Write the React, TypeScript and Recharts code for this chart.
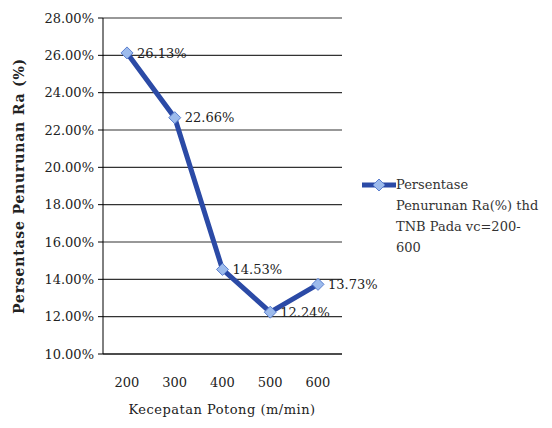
import React from 'react';
import { LineChart, Line, XAxis, YAxis, CartesianGrid, LabelList } from 'recharts';

const speeds = ['200', '300', '400', '500', '600'];
const reduction = [26.13, 22.66, 14.53, 12.24, 13.73];
const yTicks = [10, 12, 14, 16, 18, 20, 22, 24, 26, 28];
const legendLines = ['Persentase', 'Penurunan Ra(%) thd', 'TNB Pada vc=200-', '600'];

const data = speeds.map((s, i) => ({ speed: s, value: reduction[i] }));

const FONT = '"DejaVu Serif", "Liberation Serif", serif';
const LINE = '#2b4aa6';
const MARK = '#9dbbec';

const Diamond = (props: any) => {
  const { cx, cy } = props;
  if (cx == null || cy == null) return null;
  const r = 6;
  return (
    <polygon
      points={`${cx},${cy - r} ${cx + r},${cy} ${cx},${cy + r} ${cx - r},${cy}`}
      fill={MARK}
      stroke="#5b7fcf"
      strokeWidth={1}
    />
  );
};

export default function App() {
  return (
    <div style={{ position: 'absolute', left: 0, top: 0, width: 552, height: 428, background: '#fff' }}>
      <LineChart width={552} height={428} data={data} margin={{ top: 18, right: 210, bottom: 44, left: 38 }}>
        <CartesianGrid horizontal vertical={false} stroke="#333" strokeWidth={1.2} />
        <XAxis
          dataKey="speed"
          height={30}
          padding={{ left: 24, right: 24 }}
          tickLine={false}
          axisLine={{ stroke: '#000' }}
          tick={{ fill: '#222', fontSize: 13, fontFamily: FONT }}
          tickMargin={18}
        />
        <YAxis
          width={65}
          domain={[10, 28]}
          ticks={yTicks}
          interval={0}
          tickFormatter={(v: number) => `${v.toFixed(2)}%`}
          axisLine={{ stroke: '#000' }}
          tickLine={{ stroke: '#000' }}
          tickSize={5}
          tickMargin={4}
          tick={{ fill: '#222', fontSize: 13, fontFamily: FONT }}
        />
        <text x={20} y={186} transform="rotate(-90 20 186)" textAnchor="middle" dominantBaseline="middle" fill="#222" fontSize={14} fontWeight="bold" fontFamily={FONT} letterSpacing={0.8}>
          Persentase Penurunan Ra (%)
        </text>
        <text x={222} y={410} textAnchor="middle" dominantBaseline="middle" fill="#222" fontSize={13} fontFamily={FONT} letterSpacing={0.5}>
          Kecepatan Potong (m/min)
        </text>
        <Line
          type="linear"
          dataKey="value"
          stroke={LINE}
          strokeWidth={5}
          dot={<Diamond />}
          activeDot={false}
          isAnimationActive={false}
        >
          <LabelList
            dataKey="value"
            position="right"
            offset={10}
            formatter={(v: any) => `${Number(v).toFixed(2)}%`}
            style={{ fill: '#222', fontSize: 13, fontFamily: FONT }}
          />
        </Line>
      </LineChart>
      <div style={{ position: 'absolute', left: 362, top: 174, display: 'flex', alignItems: 'flex-start', fontFamily: FONT, fontSize: 13, color: '#333', lineHeight: '21px' }}>
        <svg width={34} height={21} style={{ flexShrink: 0 }}>
          <line x1={0} y1={11} x2={34} y2={11} stroke={LINE} strokeWidth={5} />
          <polygon points="17,5 23,11 17,17 11,11" fill={MARK} stroke="#5b7fcf" />
        </svg>
        <div style={{ whiteSpace: 'nowrap' }}>
          {legendLines.map((t) => (
            <div key={t}>{t}</div>
          ))}
        </div>
      </div>
    </div>
  );
}
